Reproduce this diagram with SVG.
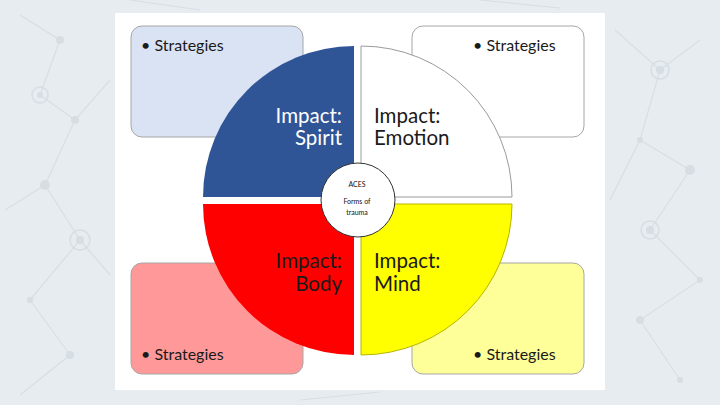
<svg xmlns="http://www.w3.org/2000/svg" width="720" height="405" viewBox="0 0 720 405">
<style>
.bg{fill:#e7ecf0}
.net line{stroke:#d8dfe4;stroke-width:1.2}
.net circle{fill:#d6dde3}
.net .ring{fill:none;stroke:#d6dde3;stroke-width:1.5}
.box{stroke:#a6a6a6;stroke-width:1}
.t{font-family:Lato,"Liberation Sans",sans-serif;fill:#1a1a1a}
.st{font-size:16px}
.imp{font-size:20.5px}
.q{stroke-width:1}
.c{font-family:Lato,"Liberation Sans",sans-serif;font-size:7px;fill:#111;text-anchor:middle}
</style>
<rect class="bg" x="0" y="0" width="720" height="405"/>
<g class="net">
<line x1="20" y1="15" x2="60" y2="40"/><line x1="60" y1="40" x2="40" y2="95"/><line x1="40" y1="95" x2="75" y2="120"/>
<line x1="75" y1="120" x2="45" y2="185"/><line x1="45" y1="185" x2="80" y2="240"/><line x1="80" y1="240" x2="30" y2="300"/>
<line x1="30" y1="300" x2="70" y2="355"/><line x1="70" y1="355" x2="20" y2="395"/><line x1="75" y1="120" x2="110" y2="80"/>
<line x1="80" y1="240" x2="110" y2="275"/><line x1="45" y1="185" x2="5" y2="210"/>
<circle cx="60" cy="40" r="4"/><circle cx="40" cy="95" r="3"/><circle cx="75" cy="120" r="4"/><circle cx="45" cy="185" r="5"/>
<circle cx="80" cy="240" r="4"/><circle cx="30" cy="300" r="3"/><circle cx="70" cy="355" r="4"/>
<circle class="ring" cx="40" cy="95" r="8"/><circle class="ring" cx="80" cy="240" r="10"/>
<line x1="615" y1="30" x2="660" y2="70"/><line x1="660" y1="70" x2="700" y2="40"/><line x1="660" y1="70" x2="640" y2="140"/>
<line x1="640" y1="140" x2="690" y2="170"/><line x1="690" y1="170" x2="650" y2="230"/><line x1="650" y1="230" x2="700" y2="280"/>
<line x1="700" y1="280" x2="640" y2="320"/><line x1="640" y1="320" x2="680" y2="380"/><line x1="640" y1="140" x2="610" y2="200"/>
<circle cx="660" cy="70" r="4"/><circle cx="640" cy="140" r="3"/><circle cx="690" cy="170" r="5"/><circle cx="650" cy="230" r="4"/>
<circle cx="700" cy="280" r="3"/><circle cx="640" cy="320" r="4"/><circle cx="680" cy="380" r="3"/>
<circle class="ring" cx="660" cy="70" r="9"/><circle class="ring" cx="650" cy="230" r="9"/>
<line x1="130" y1="0" x2="200" y2="10"/><line x1="300" y1="400" x2="380" y2="392"/><line x1="480" y1="0" x2="560" y2="8"/>
</g>
<rect x="115" y="13" width="490" height="377" fill="#ffffff"/>
<g id="box-tl"><rect class="box" x="131" y="26" width="172" height="111" rx="11" fill="#dae3f3"/><text class="t st" x="141" y="51">• Strategies</text></g>
<g id="box-tr"><rect class="box" x="412" y="26" width="172" height="111" rx="11" fill="#ffffff"/><text class="t st" x="473" y="51">• Strategies</text></g>
<g id="box-bl"><rect class="box" x="131" y="263" width="172" height="111" rx="11" fill="#ff9999"/><text class="t st" x="141" y="360">• Strategies</text></g>
<g id="box-br"><rect class="box" x="412" y="263" width="172" height="111" rx="11" fill="#ffff99"/><text class="t st" x="473" y="360">• Strategies</text></g>
<g id="q-spirit"><path class="q" d="M354,197 L203,197 A151,151 0 0 1 354,46 Z" fill="#2f5597"/>
<text class="t imp" x="342" y="123" text-anchor="end" style="fill:#ffffff">Impact:</text>
<text class="t imp" x="342" y="145" text-anchor="end" style="fill:#ffffff">Spirit</text></g>
<g id="q-emotion"><path class="q" d="M361,197 L361,46 A151,151 0 0 1 512,197 Z" fill="#ffffff" stroke="#9a9a9a"/>
<text class="t imp" x="374" y="123">Impact:</text><text class="t imp" x="374" y="145">Emotion</text></g>
<g id="q-body"><path class="q" d="M354,204 L354,355 A151,151 0 0 1 203,204 Z" fill="#ff0000"/>
<text class="t imp" x="342" y="268" text-anchor="end">Impact:</text><text class="t imp" x="342" y="291" text-anchor="end">Body</text></g>
<g id="q-mind"><path class="q" d="M361,204 L512,204 A151,151 0 0 1 361,355 Z" fill="#ffff00" stroke="#b5b500" stroke-width="0.8"/>
<text class="t imp" x="374" y="268">Impact:</text><text class="t imp" x="374" y="291">Mind</text></g>
<g id="center"><circle cx="358" cy="200" r="37" fill="#ffffff" stroke="#333333" stroke-width="1"/>
<text class="c" x="357" y="187">ACES</text><text class="c" x="357" y="204">Forms of</text><text class="c" x="357" y="215">trauma</text></g>
</svg>
